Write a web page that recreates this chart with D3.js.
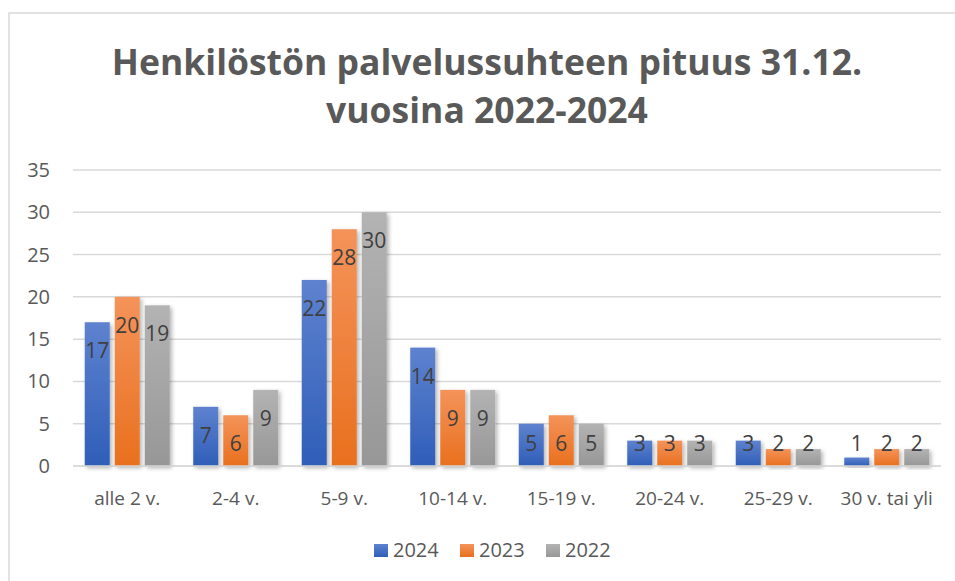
<!DOCTYPE html>
<html>
<head>
<meta charset="utf-8">
<script src="https://cdn.jsdelivr.net/npm/d3@7"></script>
<style>
  body { margin: 0; background: #fff; }
  svg { display: block; font-family: "Open Sans", "Noto Sans", sans-serif; }
</style>
</head>
<body>
<div id="chart"></div>
<script>
const categories = ['alle 2 v.', '2-4 v.', '5-9 v.', '10-14 v.', '15-19 v.', '20-24 v.', '25-29 v.', '30 v. tai yli'];
const seriesNames = ['2024', '2023', '2022'];
const values2024 = [17, 7, 22, 14, 5, 3, 3, 1];
const values2023 = [20, 6, 28, 9, 6, 3, 2, 2];
const values2022 = [19, 9, 30, 9, 5, 3, 2, 2];
const yTicks = [0, 5, 10, 15, 20, 25, 30, 35];
const titleLines = ['Henkilöstön palvelussuhteen pituus 31.12.', 'vuosina 2022-2024'];

const allValues = [values2024, values2023, values2022];
const colors = [
  { top: '#5e82cf', bottom: '#2f5eb8' },
  { top: '#f4935a', bottom: '#e9701e' },
  { top: '#b3b3b3', bottom: '#979797' }
];

const width = 955, height = 581;
const margin = { left: 73, right: 14 };

const svg = d3.select('#chart').append('svg')
  .attr('width', width)
  .attr('height', height);

const defs = svg.append('defs');
colors.forEach((c, i) => {
  const g = defs.append('linearGradient')
    .attr('id', 'grad' + i)
    .attr('x1', 0).attr('y1', 0).attr('x2', 0).attr('y2', 1);
  g.append('stop').attr('offset', '0%').attr('stop-color', c.top);
  g.append('stop').attr('offset', '100%').attr('stop-color', c.bottom);
});
defs.append('filter').attr('id', 'shadow')
  .attr('x', '-30%').attr('y', '-10%').attr('width', '160%').attr('height', '130%')
  .append('feDropShadow')
  .attr('dx', 2).attr('dy', 2).attr('stdDeviation', 2)
  .attr('flood-color', '#000').attr('flood-opacity', 0.3);

// chart border
svg.append('rect')
  .attr('x', 9).attr('y', 13)
  .attr('width', width).attr('height', height)
  .attr('fill', 'none')
  .attr('stroke', '#d9d9d9')
  .attr('stroke-width', 1.5);

const x = d3.scaleBand()
  .domain(categories)
  .range([margin.left, width - margin.right])
  .paddingInner(0)
  .paddingOuter(0);

const y = d3.scaleLinear()
  .domain([0, 35])
  .range([466, 170]);

const barW = 25, barStep = 30;

// gridlines
svg.append('g')
  .selectAll('line')
  .data(yTicks)
  .enter().append('line')
    .attr('x1', margin.left)
    .attr('x2', width - margin.right)
    .attr('y1', d => y(d))
    .attr('y2', d => y(d))
    .attr('stroke', '#d9d9d9')
    .attr('stroke-width', 1.5);

// y tick labels
svg.append('g')
  .selectAll('text')
  .data(yTicks)
  .enter().append('text')
    .attr('x', 50)
    .attr('y', d => y(d) + 7)
    .attr('text-anchor', 'end')
    .attr('fill', '#595959')
    .attr('font-size', 20)
    .text(d => d);

// bars
const groupCenter = c => x(c) + x.bandwidth() / 2;
const barX = (c, s) => groupCenter(c) - barW / 2 + (s - 1) * barStep;

allValues.forEach((vals, s) => {
  svg.append('g')
    .selectAll('rect')
    .data(vals)
    .enter().append('rect')
      .attr('x', (d, i) => barX(categories[i], s))
      .attr('y', d => y(d))
      .attr('width', barW)
      .attr('height', d => y(0) - y(d))
      .attr('fill', 'url(#grad' + s + ')')
      .attr('filter', 'url(#shadow)');
});

// axis line
svg.append('line')
  .attr('x1', margin.left).attr('x2', width - margin.right)
  .attr('y1', y(0)).attr('y2', y(0))
  .attr('stroke', '#d9d9d9').attr('stroke-width', 1.5);

// data labels
allValues.forEach((vals, s) => {
  svg.append('g')
    .selectAll('text')
    .data(vals)
    .enter().append('text')
      .attr('x', (d, i) => barX(categories[i], s) + barW / 2)
      .attr('y', d => Math.min(y(d) + 28, 443) + 8)
      .attr('text-anchor', 'middle')
      .attr('fill', '#404040')
      .attr('font-size', 21)
      .text(d => d);
});

// x labels
svg.append('g')
  .selectAll('text')
  .data(categories)
  .enter().append('text')
    .attr('x', d => groupCenter(d))
    .attr('y', 505)
    .attr('text-anchor', 'middle')
    .attr('fill', '#595959')
    .attr('font-size', 19)
    .text(d => d);

// title
svg.append('g')
  .selectAll('text')
  .data(titleLines)
  .enter().append('text')
    .attr('x', 487)
    .attr('y', (d, i) => 75 + i * 48)
    .attr('text-anchor', 'middle')
    .attr('fill', '#595959')
    .attr('font-size', 35.5)
    .attr('font-weight', 'bold')
    .text(d => d);

// legend
const legendX = [374, 460, 546];
const legend = svg.append('g')
  .selectAll('g')
  .data(seriesNames)
  .enter().append('g')
    .attr('transform', (d, i) => `translate(${legendX[i]},550)`);
legend.append('rect')
  .attr('x', 0).attr('y', -6)
  .attr('width', 14).attr('height', 13)
  .attr('fill', (d, i) => 'url(#grad' + i + ')');
legend.append('text')
  .attr('x', 19)
  .attr('y', 7)
  .attr('fill', '#595959')
  .attr('font-size', 20)
  .text(d => d);
</script>
</body>
</html>
